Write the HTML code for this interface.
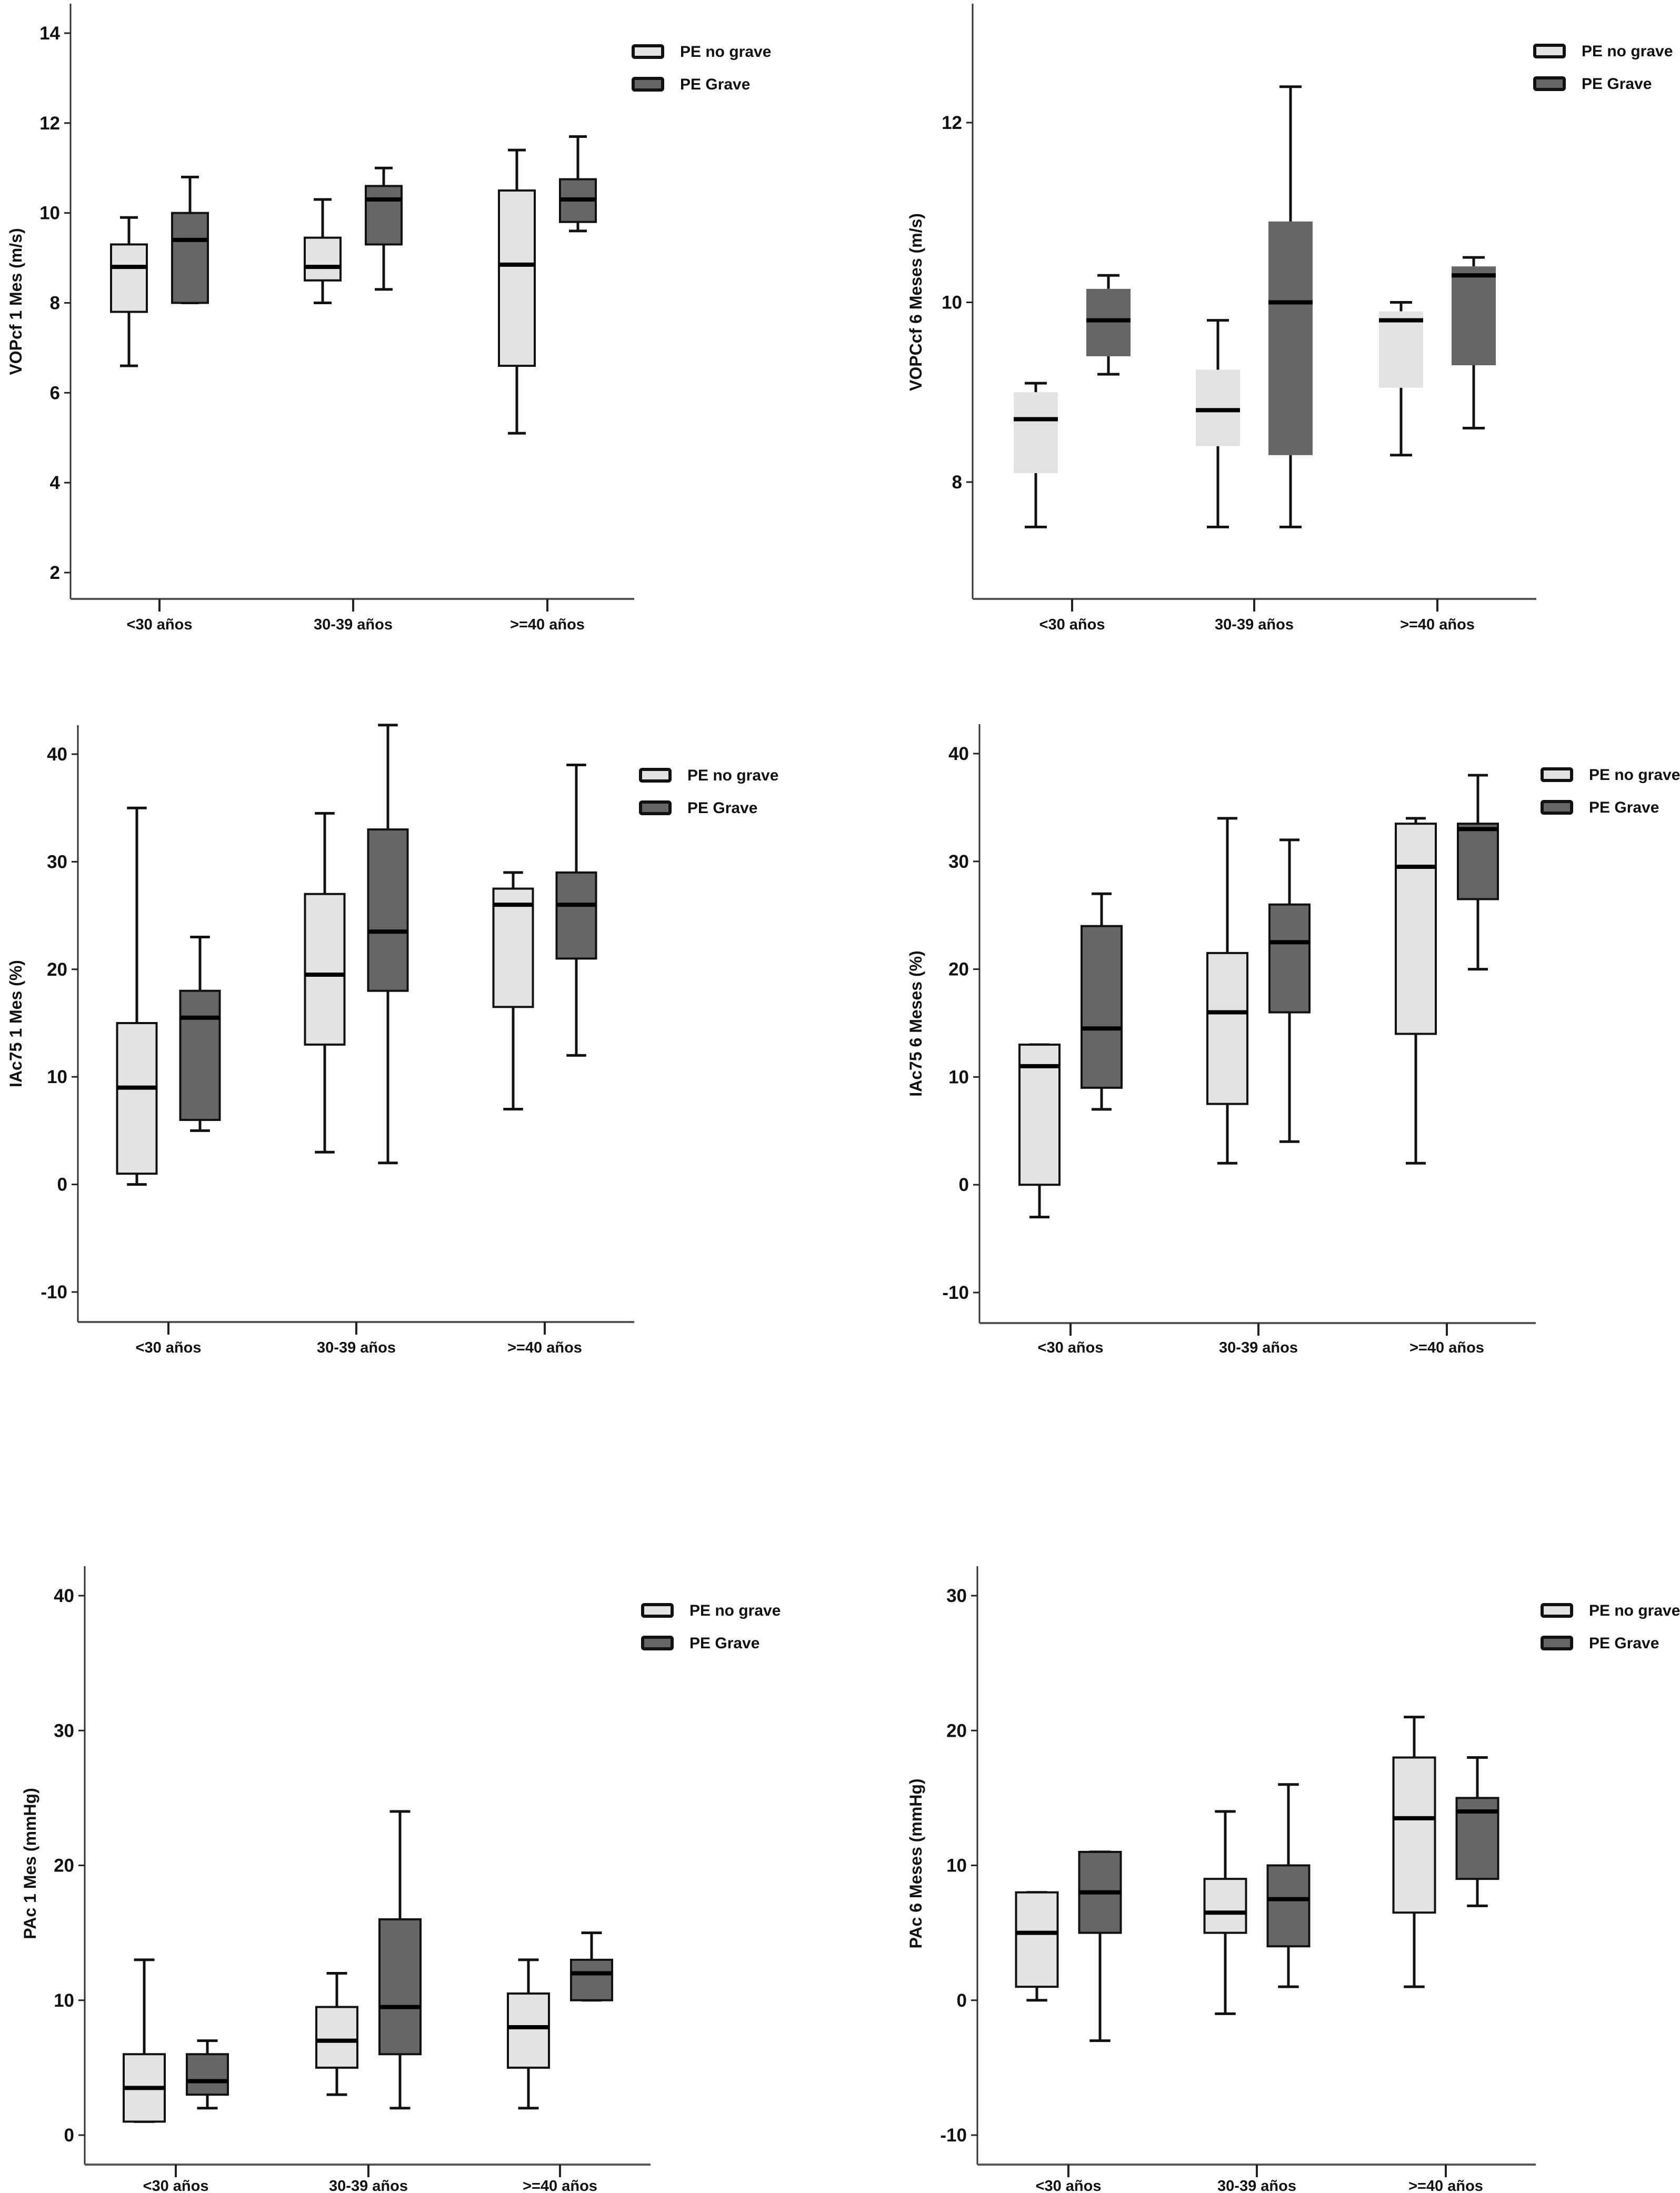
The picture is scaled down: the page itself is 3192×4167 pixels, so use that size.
<!DOCTYPE html>
<html><head><meta charset="utf-8">
<style>
html,body{margin:0;padding:0;background:#fff;}
svg{display:block;}
text{font-family:"Liberation Sans",sans-serif;font-weight:bold;fill:#111;}
</style></head>
<body>
<svg id="fig" xmlns="http://www.w3.org/2000/svg" width="3192" height="4167" viewBox="0 0 3192 4167"></svg>
<script>
// ---- data: each entry [min, q1, median, q3, max] per age group ----
const categories = ["<30 años", "30-39 años", ">=40 años"];
const seriesNames = ["PE no grave", "PE Grave"];

const vop1Light = [[6.6,7.8,8.8,9.3,9.9],[8.0,8.5,8.8,9.45,10.3],[5.1,6.6,8.85,10.5,11.4]];
const vop1Dark  = [[8.0,8.0,9.4,10.0,10.8],[8.3,9.3,10.3,10.6,11.0],[9.6,9.8,10.3,10.75,11.7]];
const vop1Ticks = [2,4,6,8,10,12,14];

const vop6Light = [[7.5,8.1,8.7,9.0,9.1],[7.5,8.4,8.8,9.25,9.8],[8.3,9.05,9.8,9.9,10.0]];
const vop6Dark  = [[9.2,9.4,9.8,10.15,10.3],[7.5,8.3,10.0,10.9,12.4],[8.6,9.3,10.3,10.4,10.5]];
const vop6Ticks = [8,10,12];

const iac1Light = [[0,1,9,15,35],[3,13,19.5,27,34.5],[7,16.5,26,27.5,29]];
const iac1Dark  = [[5,6,15.5,18,23],[2,18,23.5,33,42.7],[12,21,26,29,39]];
const iac1Ticks = [-10,0,10,20,30,40];

const iac6Light = [[-3,0,11,13,13],[2,7.5,16,21.5,34],[2,14,29.5,33.5,34]];
const iac6Dark  = [[7,9,14.5,24,27],[4,16,22.5,26,32],[20,26.5,33,33.5,38]];
const iac6Ticks = [-10,0,10,20,30,40];

const pac1Light = [[1,1,3.5,6,13],[3,5,7,9.5,12],[2,5,8,10.5,13]];
const pac1Dark  = [[2,3,4,6,7],[2,6,9.5,16,24],[10,10,12,13,15]];
const pac1Ticks = [0,10,20,30,40];

const pac6Light = [[0,1,5,8,8],[-1,5,6.5,9,14],[1,6.5,13.5,18,21]];
const pac6Dark  = [[-3,5,8,11,11],[1,4,7.5,10,16],[7,9,14,15,18]];
const pac6Ticks = [-10,0,10,20,30];

// ---- layout (pixels) ----
const NS = "http://www.w3.org/2000/svg";
const svg = document.getElementById("fig");
function el(tag, attrs, parent){
  const e = document.createElementNS(NS, tag);
  for (const k in attrs) e.setAttribute(k, attrs[k]);
  (parent||svg).appendChild(e);
  return e;
}
const LIGHT = "#e3e3e3", DARK = "#666666";

const panels = [
  {key:"vop1", title:"VOPcf 1 Mes (m/s)", light:vop1Light, dark:vop1Dark, ticks:vop1Ticks,
   ax:134, top:7, bottom:1138, right:1205, v0:14, p0:63, v1:2, p1:1088,
   cats:[303,671,1040], off:58, bw:68, border:true, tx:30, ty:573,
   legX:1200, legY:84, labY:1196},
  {key:"vop6", title:"VOPCcf 6 Meses (m/s)", light:vop6Light, dark:vop6Dark, ticks:vop6Ticks,
   ax:1848, top:7, bottom:1138, right:2919, v0:12, p0:233, v1:8, p1:916,
   cats:[2037,2383,2731], off:69, bw:84, border:false, tx:1740, ty:574,
   legX:2913, legY:83, labY:1196},
  {key:"iac1", title:"IAc75 1 Mes (%)", light:iac1Light, dark:iac1Dark, ticks:iac1Ticks,
   ax:148, top:1378, bottom:2512, right:1205, v0:40, p0:1433, v1:-10, p1:2455,
   cats:[320,677,1035], off:60, bw:75, border:true, tx:30, ty:1945,
   legX:1214, legY:1459, labY:2570},
  {key:"iac6", title:"IAc75 6 Meses (%)", light:iac6Light, dark:iac6Dark, ticks:iac6Ticks,
   ax:1861, top:1376, bottom:2514, right:2918, v0:40, p0:1432, v1:-10, p1:2456,
   cats:[2034,2391,2749], off:59, bw:76, border:true, tx:1740, ty:1945,
   legX:2927, legY:1458, labY:2570},
  {key:"pac1", title:"PAc 1 Mes (mmHg)", light:pac1Light, dark:pac1Dark, ticks:pac1Ticks,
   ax:161, top:2976, bottom:4113, right:1236, v0:40, p0:3032, v1:0, p1:4057,
   cats:[334,700,1064], off:60, bw:78, border:true, tx:57, ty:3541,
   legX:1218, legY:3046, labY:4163},
  {key:"pac6", title:"PAc 6 Meses (mmHg)", light:pac6Light, dark:pac6Dark, ticks:pac6Ticks,
   ax:1857, top:2976, bottom:4113, right:2918, v0:30, p0:3032, v1:-10, p1:4057,
   cats:[2030,2388,2747], off:60, bw:79, border:true, tx:1740, ty:3541,
   legX:2927, legY:3046, labY:4163}
];

function drawBox(g, p, cx, d, fill, name){
  const y = v => p.p0 + (v - p.v0) * (p.p1 - p.p0) / (p.v1 - p.v0);
  const [mn,q1,md,q3,mx] = d;
  const bg = el("g", {}, g);
  
  
  const cap = p.bw * 0.5;
  el("line",{x1:cx,x2:cx,y1:y(mx),y2:y(q3),stroke:"#111","stroke-width":5},bg);
  el("line",{x1:cx,x2:cx,y1:y(q1),y2:y(mn),stroke:"#111","stroke-width":5},bg);
  el("line",{x1:cx-cap/2,x2:cx+cap/2,y1:y(mx),y2:y(mx),stroke:"#111","stroke-width":5},bg);
  el("line",{x1:cx-cap/2,x2:cx+cap/2,y1:y(mn),y2:y(mn),stroke:"#111","stroke-width":5},bg);
  const r = el("rect",{x:cx-p.bw/2,y:y(q3),width:p.bw,height:Math.max(1,y(q1)-y(q3)),fill:fill},bg);
  if (p.border){ r.setAttribute("stroke","#111"); r.setAttribute("stroke-width",4); }
  el("line",{x1:cx-p.bw/2,x2:cx+p.bw/2,y1:y(md),y2:y(md),stroke:"#000","stroke-width":8},bg);
}

panels.forEach(p => {
  const g = el("g", {});
  
  
  const y = v => p.p0 + (v - p.v0) * (p.p1 - p.p0) / (p.v1 - p.v0);
  // axes
  const ya = el("line",{x1:p.ax,x2:p.ax,y1:p.top,y2:p.bottom,stroke:"#333","stroke-width":3},g);
  
  
  const xa = el("line",{x1:p.ax,x2:p.right,y1:p.bottom,y2:p.bottom,stroke:"#555","stroke-width":4},g);
  
  
  // y ticks
  p.ticks.forEach(t => {
    const ty = y(t);
    el("line",{x1:p.ax-12,x2:p.ax,y1:ty,y2:ty,stroke:"#222","stroke-width":3},g);
    const lt = el("text",{x:p.ax-20,y:ty+12,"font-size":35,"text-anchor":"end"},g);
    lt.textContent = t;
    
    
  });
  // y title
  const tt = el("text",{x:p.tx,y:p.ty,"font-size":32,"text-anchor":"middle",transform:`rotate(-90 ${p.tx} ${p.ty})`,"dominant-baseline":"central"},g);
  tt.textContent = p.title;
  
  
  // categories
  categories.forEach((c,i) => {
    const cx = p.cats[i];
    el("line",{x1:cx,x2:cx,y1:p.bottom,y2:p.bottom+24,stroke:"#222","stroke-width":4},g);
    const ct = el("text",{x:cx,y:p.labY,"font-size":29,"text-anchor":"middle"},g);
    ct.textContent = c;
    
    
    drawBox(g, p, cx - p.off, p.light[i], LIGHT, 'box-no-grave-' + i);
    drawBox(g, p, cx + p.off, p.dark[i], DARK, 'box-grave-' + i);
  });
  // legend
  const lg = el("g", {}, g);
  
  
  [LIGHT, DARK].forEach((col, k) => {
    const ly = p.legY + k * 62;
    el("rect",{x:p.legX+3,y:ly+3,width:56,height:22,fill:col,stroke:"#111","stroke-width":6,rx:3},lg);
    const lt = el("text",{x:p.legX+92,y:ly+24,"font-size":30},lg);
    lt.textContent = seriesNames[k];
    
    
  });
});
</script>
</body></html>
